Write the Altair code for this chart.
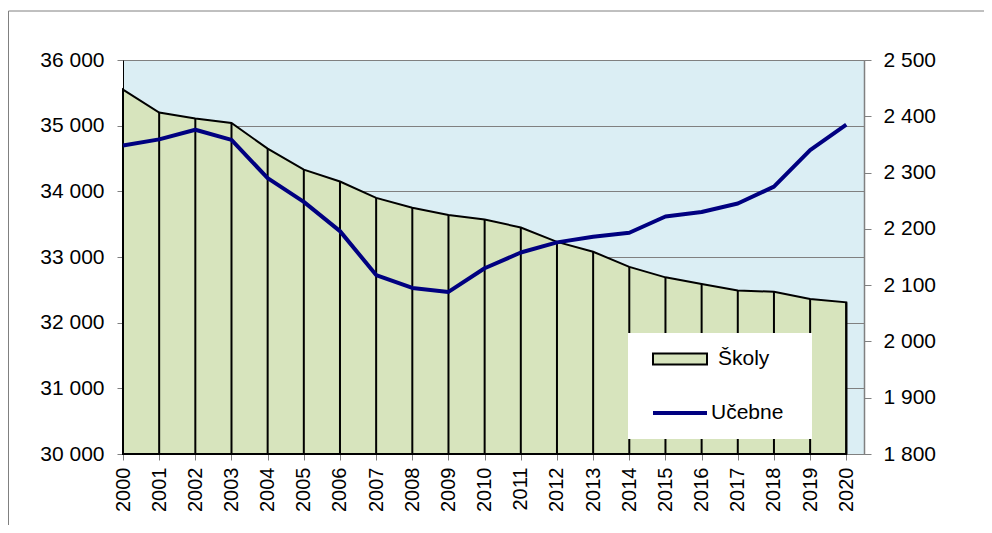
import altair as alt
import pandas as pd

years = [2000, 2001, 2002, 2003, 2004, 2005, 2006, 2007, 2008, 2009, 2010,
         2011, 2012, 2013, 2014, 2015, 2016, 2017, 2018, 2019, 2020]
skoly = [35550, 35200, 35110, 35040, 34650, 34330, 34150, 33900, 33750, 33640, 33570,
         33450, 33230, 33080, 32850, 32690, 32590, 32490, 32470, 32360, 32310]
ucebne = [2348, 2359, 2376, 2358, 2290, 2248, 2196, 2118, 2095, 2088, 2130,
          2158, 2176, 2186, 2193, 2222, 2230, 2245, 2275, 2340, 2385]
left_ticks = [30000, 31000, 32000, 33000, 34000, 35000, 36000]
right_ticks = [1800, 1900, 2000, 2100, 2200, 2300, 2400, 2500]

df = pd.DataFrame({"rok": years, "skoly": skoly, "ucebne": ucebne,
                   "s1": ["Školy"] * len(years), "s2": ["Učebne"] * len(years)})

FONT = "Liberation Sans"
xscale = alt.Scale(domain=[2000, 2020.49], nice=False, zero=False)
xaxis = alt.Axis(values=years, format="d", labelAngle=270, labelAlign="right",
                 labelBaseline="middle", tickSize=6, tickColor="#808080",
                 domainColor="#808080", labelPadding=7, grid=False, title=None,
                 labelFlush=False, labelOverlap=False, labelBound=False,
                 labelFontSize=20)
X = alt.X("rok:Q", scale=xscale, axis=xaxis)
lscale = alt.Scale(domain=[30000, 36000], nice=False, zero=False)
rscale = alt.Scale(domain=[1800, 2500], nice=False, zero=False)
lab = "replace(format(datum.value, ','), ',', ' ')"

base = alt.Chart(df)

area = base.mark_area(stroke="black", strokeWidth=2, opacity=1).encode(
    x=X,
    y=alt.Y("skoly:Q", scale=lscale,
            axis=alt.Axis(orient="left", values=left_ticks, labelExpr=lab, title=None,
                          grid=True, gridColor="#808080", gridWidth=1,
                          tickSize=6, tickColor="#808080", domainColor="black",
                          labelPadding=13, labelFontSize=21)),
    y2=alt.datum(30000),
    fill=alt.Fill("s1:N", scale=alt.Scale(domain=["Školy"], range=["#D7E4BD"]),
                  legend=alt.Legend(orient="none", legendX=529, legendY=271, title=None,
                                    symbolType="M-1,-0.2H1V0.2H-1Z", symbolSize=2916,
                                    symbolStrokeColor="black", symbolStrokeWidth=2,
                                    symbolOpacity=1,
                                    labelFont=FONT, labelFontSize=21, labelColor="black",
                                    labelOffset=10, padding=0)),
)

rules = base.mark_rule(color="black", strokeWidth=2).encode(
    x=X,
    y=alt.Y("skoly:Q", scale=lscale),
    y2=alt.datum(30000),
)

line = base.mark_line(strokeWidth=4, strokeJoin="round").encode(
    x=X,
    y=alt.Y("ucebne:Q", scale=rscale,
            axis=alt.Axis(orient="right", values=right_ticks, labelExpr=lab, title=None,
                          grid=False, tickSize=7, tickColor="#808080",
                          domainColor="#808080", domainWidth=1.5, labelPadding=12,
                          labelFontSize=21)),
    stroke=alt.Stroke("s2:N", scale=alt.Scale(domain=["Učebne"], range=["#000080"]),
                      legend=alt.Legend(orient="none", legendX=528, legendY=324, title=None,
                                        symbolType="stroke", symbolSize=2916,
                                        symbolStrokeWidth=4,
                                        labelFont=FONT, labelFontSize=21, labelColor="black",
                                        labelOffset=2, padding=0)),
)

one = alt.Chart(pd.DataFrame({"a": [0]}))
box = one.mark_rect(color="white").encode(
    x=alt.value(505), x2=alt.value(689), y=alt.value(273), y2=alt.value(379))
frame_left = one.mark_rule(color="#808080", strokeWidth=1).encode(
    x=alt.value(-114.5), y=alt.value(-49), y2=alt.value(470))
frame_top = one.mark_rule(color="#808080", strokeWidth=1).encode(
    x=alt.value(-114.5), x2=alt.value(870), y=alt.value(-49))

left = alt.layer(area, rules)
chart = alt.layer(left, line, box, frame_left, frame_top).resolve_scale(
    y="independent"
).properties(
    width=741, height=394,
    autosize=alt.AutoSizeParams(type="none"),
    padding={"left": 115, "top": 52, "right": 120, "bottom": 71},
).configure_view(
    fill="#DBEEF4", stroke="#808080", strokeWidth=1
).configure_axis(
    labelFont=FONT, labelColor="black"
)

chart.save("out.html", embed_options={"renderer": "svg", "actions": False})
